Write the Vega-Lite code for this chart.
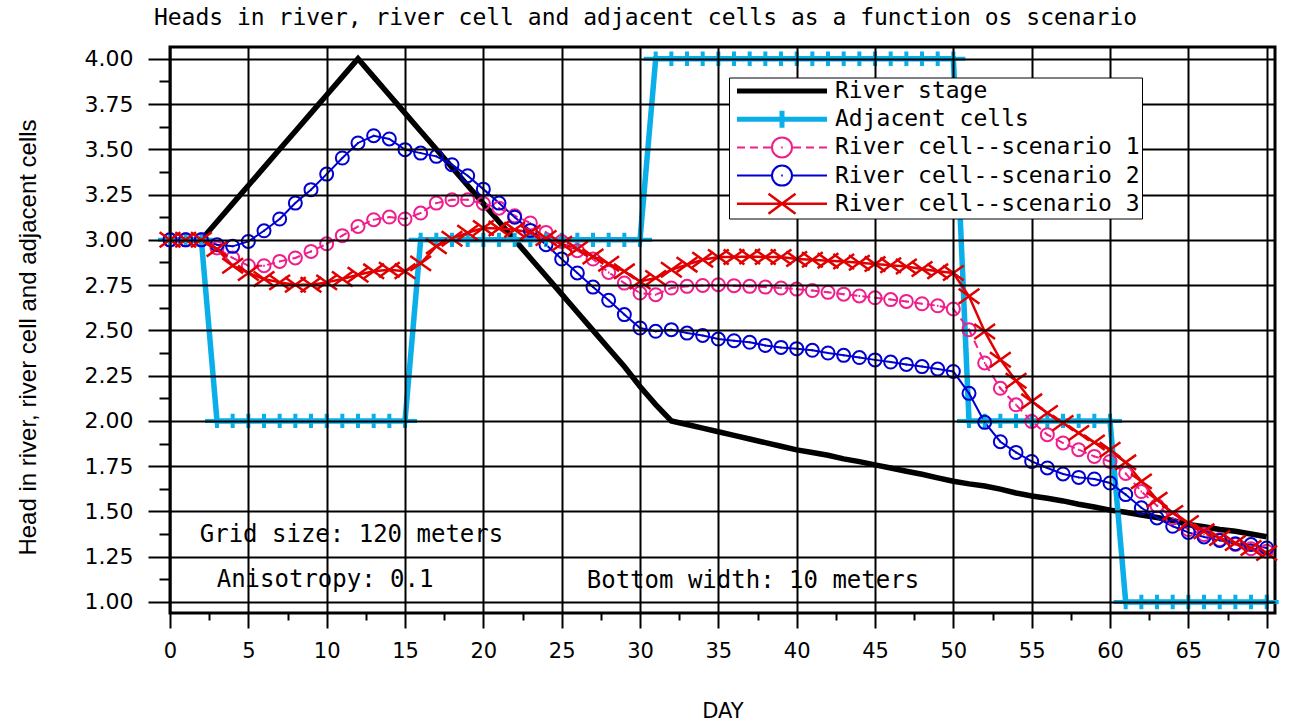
{
  "$schema": "https://vega.github.io/schema/vega-lite/v6.json",
  "width": 1105,
  "height": 566,
  "autosize": {"type": "none"},
  "padding": {"left": 170, "top": 47, "right": 24, "bottom": 108},
  "background": "white",
  "title": {
    "text": "Heads in river, river cell and adjacent cells as a function os scenario",
    "font": "DejaVu Sans Mono",
    "fontSize": 23,
    "fontWeight": "normal",
    "color": "black",
    "anchor": "middle",
    "dx": -77,
    "offset": -4,
    "baseline": "alphabetic"
  },
  "config": {
    "font": "DejaVu Sans",
    "view": {"stroke": "black", "strokeWidth": 3}
  },
  "datasets": {
    "heads": [
      {"day":0,"river":3.0,"adjacent":3.0,"s1":3.0,"s2":3.0,"s3":3.0},
      {"day":1,"river":3.0,"adjacent":3.0,"s1":3.0,"s2":3.0,"s3":3.0},
      {"day":2,"river":3.0,"adjacent":3.0,"s1":3.0,"s2":3.0,"s3":3.0},
      {"day":3,"river":3.1,"adjacent":2.0,"s1":2.955,"s2":2.973,"s3":2.949},
      {"day":4,"river":3.2,"adjacent":2.0,"s1":2.90,"s2":2.964,"s3":2.857},
      {"day":5,"river":3.3,"adjacent":2.0,"s1":2.857,"s2":2.991,"s3":2.817},
      {"day":6,"river":3.4,"adjacent":2.0,"s1":2.857,"s2":3.05,"s3":2.784},
      {"day":7,"river":3.5,"adjacent":2.0,"s1":2.881,"s2":3.115,"s3":2.765},
      {"day":8,"river":3.6,"adjacent":2.0,"s1":2.90,"s2":3.203,"s3":2.752},
      {"day":9,"river":3.7,"adjacent":2.0,"s1":2.936,"s2":3.277,"s3":2.752},
      {"day":10,"river":3.8,"adjacent":2.0,"s1":2.978,"s2":3.363,"s3":2.765},
      {"day":11,"river":3.9,"adjacent":2.0,"s1":3.023,"s2":3.452,"s3":2.784},
      {"day":12,"river":4.0,"adjacent":2.0,"s1":3.074,"s2":3.535,"s3":2.807},
      {"day":13,"river":3.9,"adjacent":2.0,"s1":3.111,"s2":3.575,"s3":2.826},
      {"day":14,"river":3.8,"adjacent":2.0,"s1":3.126,"s2":3.557,"s3":2.835},
      {"day":15,"river":3.7,"adjacent":2.0,"s1":3.115,"s2":3.498,"s3":2.826},
      {"day":16,"river":3.6,"adjacent":3.0,"s1":3.148,"s2":3.479,"s3":2.870},
      {"day":17,"river":3.5,"adjacent":3.0,"s1":3.203,"s2":3.461,"s3":2.964},
      {"day":18,"river":3.4,"adjacent":3.0,"s1":3.221,"s2":3.415,"s3":3.006},
      {"day":19,"river":3.3,"adjacent":3.0,"s1":3.221,"s2":3.354,"s3":3.039},
      {"day":20,"river":3.2,"adjacent":3.0,"s1":3.201,"s2":3.280,"s3":3.065},
      {"day":21,"river":3.1,"adjacent":3.0,"s1":3.175,"s2":3.203,"s3":3.062},
      {"day":22,"river":3.0,"adjacent":3.0,"s1":3.133,"s2":3.125,"s3":3.056},
      {"day":23,"river":2.9,"adjacent":3.0,"s1":3.093,"s2":3.052,"s3":3.041},
      {"day":24,"river":2.8,"adjacent":3.0,"s1":3.041,"s2":2.973,"s3":3.010},
      {"day":25,"river":2.7,"adjacent":3.0,"s1":2.991,"s2":2.894,"s3":2.978},
      {"day":26,"river":2.6,"adjacent":3.0,"s1":2.940,"s2":2.817,"s3":2.949},
      {"day":27,"river":2.5,"adjacent":3.0,"s1":2.894,"s2":2.739,"s3":2.908},
      {"day":28,"river":2.4,"adjacent":3.0,"s1":2.820,"s2":2.666,"s3":2.868},
      {"day":29,"river":2.3,"adjacent":3.0,"s1":2.761,"s2":2.587,"s3":2.826},
      {"day":30,"river":2.19,"adjacent":3.0,"s1":2.706,"s2":2.513,"s3":2.770},
      {"day":31,"river":2.09,"adjacent":4.0,"s1":2.697,"s2":2.495,"s3":2.789},
      {"day":32,"river":2.0,"adjacent":4.0,"s1":2.734,"s2":2.504,"s3":2.835},
      {"day":33,"river":1.98,"adjacent":4.0,"s1":2.743,"s2":2.485,"s3":2.863},
      {"day":34,"river":1.96,"adjacent":4.0,"s1":2.748,"s2":2.472,"s3":2.890},
      {"day":35,"river":1.94,"adjacent":4.0,"s1":2.752,"s2":2.452,"s3":2.905},
      {"day":36,"river":1.92,"adjacent":4.0,"s1":2.747,"s2":2.443,"s3":2.905},
      {"day":37,"river":1.90,"adjacent":4.0,"s1":2.743,"s2":2.434,"s3":2.908},
      {"day":38,"river":1.88,"adjacent":4.0,"s1":2.739,"s2":2.417,"s3":2.905},
      {"day":39,"river":1.86,"adjacent":4.0,"s1":2.734,"s2":2.406,"s3":2.905},
      {"day":40,"river":1.84,"adjacent":4.0,"s1":2.728,"s2":2.399,"s3":2.894},
      {"day":41,"river":1.825,"adjacent":4.0,"s1":2.720,"s2":2.390,"s3":2.890},
      {"day":42,"river":1.81,"adjacent":4.0,"s1":2.710,"s2":2.375,"s3":2.885},
      {"day":43,"river":1.79,"adjacent":4.0,"s1":2.700,"s2":2.362,"s3":2.880},
      {"day":44,"river":1.775,"adjacent":4.0,"s1":2.690,"s2":2.350,"s3":2.873},
      {"day":45,"river":1.757,"adjacent":4.0,"s1":2.680,"s2":2.337,"s3":2.866},
      {"day":46,"river":1.74,"adjacent":4.0,"s1":2.670,"s2":2.325,"s3":2.860},
      {"day":47,"river":1.722,"adjacent":4.0,"s1":2.660,"s2":2.312,"s3":2.853},
      {"day":48,"river":1.705,"adjacent":4.0,"s1":2.647,"s2":2.300,"s3":2.839},
      {"day":49,"river":1.685,"adjacent":4.0,"s1":2.636,"s2":2.286,"s3":2.826},
      {"day":50,"river":1.667,"adjacent":4.0,"s1":2.618,"s2":2.273,"s3":2.817},
      {"day":51,"river":1.652,"adjacent":2.0,"s1":2.504,"s2":2.152,"s3":2.688},
      {"day":52,"river":1.64,"adjacent":2.0,"s1":2.320,"s2":1.992,"s3":2.494},
      {"day":53,"river":1.623,"adjacent":2.0,"s1":2.180,"s2":1.885,"s3":2.338},
      {"day":54,"river":1.602,"adjacent":2.0,"s1":2.089,"s2":1.826,"s3":2.222},
      {"day":55,"river":1.585,"adjacent":2.0,"s1":1.997,"s2":1.776,"s3":2.108},
      {"day":56,"river":1.573,"adjacent":2.0,"s1":1.924,"s2":1.740,"s3":2.044},
      {"day":57,"river":1.558,"adjacent":2.0,"s1":1.878,"s2":1.707,"s3":1.988},
      {"day":58,"river":1.54,"adjacent":2.0,"s1":1.841,"s2":1.688,"s3":1.933},
      {"day":59,"river":1.524,"adjacent":2.0,"s1":1.804,"s2":1.679,"s3":1.881},
      {"day":60,"river":1.507,"adjacent":2.0,"s1":1.776,"s2":1.657,"s3":1.841},
      {"day":61,"river":1.495,"adjacent":1.0,"s1":1.710,"s2":1.593,"s3":1.771},
      {"day":62,"river":1.48,"adjacent":1.0,"s1":1.610,"s2":1.520,"s3":1.666},
      {"day":63,"river":1.466,"adjacent":1.0,"s1":1.532,"s2":1.464,"s3":1.565},
      {"day":64,"river":1.45,"adjacent":1.0,"s1":1.464,"s2":1.418,"s3":1.492},
      {"day":65,"river":1.428,"adjacent":1.0,"s1":1.400,"s2":1.384,"s3":1.436},
      {"day":66,"river":1.415,"adjacent":1.0,"s1":1.372,"s2":1.359,"s3":1.390},
      {"day":67,"river":1.40,"adjacent":1.0,"s1":1.344,"s2":1.340,"s3":1.353},
      {"day":68,"river":1.39,"adjacent":1.0,"s1":1.317,"s2":1.322,"s3":1.326},
      {"day":69,"river":1.375,"adjacent":1.0,"s1":1.294,"s2":1.317,"s3":1.298},
      {"day":70,"river":1.36,"adjacent":1.0,"s1":1.280,"s2":1.298,"s3":1.270}
    ],
    "notes": [
      {"day": 1.9, "value": 1.333, "label": "Grid size: 120 meters"},
      {"day": 2.98, "value": 1.085, "label": "Anisotropy: 0.1"},
      {"day": 26.6, "value": 1.077, "label": "Bottom width: 10 meters"}
    ]
  },
  "encoding": {
    "x": {
      "field": "day",
      "type": "quantitative",
      "scale": {"domain": [0, 70.53], "nice": false, "zero": false},
      "axis": {
        "values": [0,2.5,5,7.5,10,12.5,15,17.5,20,22.5,25,27.5,30,32.5,35,37.5,40,42.5,45,47.5,50,52.5,55,57.5,60,62.5,65,67.5,70],
        "format": "d",
        "labelExpr": "datum.value % 5 === 0 ? datum.label : ''",
        "title": "DAY",
        "titleFont": "DejaVu Sans",
        "titleFontSize": 21,
        "titleFontWeight": "normal",
        "titleColor": "black",
        "titleY": 104,
        "titleBaseline": "alphabetic",
        "labelFont": "DejaVu Sans",
        "labelFontSize": 21,
        "labelColor": "black",
        "labelPadding": 12,
        "labelFlush": false,
        "labelOverlap": false,
        "grid": true,
        "gridColor": "black",
        "gridWidth": 2,
        "gridOpacity": {"condition": {"test": "datum.value % 5 === 0", "value": 1}, "value": 0},
        "tickColor": "black",
        "tickWidth": 2,
        "tickSize": {"condition": {"test": "datum.value % 5 === 0", "value": 15}, "value": 7},
        "domain": false,
        "zindex": 1
      }
    },
    "y": {
      "field": "value",
      "type": "quantitative",
      "scale": {"domain": [0.939, 4.065], "nice": false, "zero": false},
      "axis": {
        "values": [1,1.125,1.25,1.375,1.5,1.625,1.75,1.875,2,2.125,2.25,2.375,2.5,2.625,2.75,2.875,3,3.125,3.25,3.375,3.5,3.625,3.75,3.875,4],
        "format": ".2f",
        "labelExpr": "(datum.value * 4) % 1 === 0 ? datum.label : ''",
        "title": "Head in river, river cell and adjacent cells",
        "titleFont": "Liberation Sans",
        "titleFontSize": 24,
        "titleFontWeight": "normal",
        "titleColor": "black",
        "titleX": -135,
        "titleY": 290,
        "titleAngle": -90,
        "titleAlign": "center",
        "titleBaseline": "alphabetic",
        "labelFont": "DejaVu Sans",
        "labelFontSize": 22,
        "labelColor": "black",
        "labelPadding": 15,
        "labelOverlap": false,
        "labelFlush": false,
        "grid": true,
        "gridColor": "black",
        "gridWidth": 2,
        "gridOpacity": {"condition": {"test": "(datum.value * 4) % 1 === 0", "value": 1}, "value": 0},
        "tickColor": "black",
        "tickWidth": 2,
        "tickSize": {"condition": {"test": "(datum.value * 4) % 1 === 0", "value": 22}, "value": 11},
        "domain": false,
        "zindex": 1
      }
    }
  },
  "layer": [
    {
      "data": {"name": "heads"},
      "transform": [
        {"fold": ["river", "adjacent", "s1", "s2", "s3"], "as": ["series", "value"]},
        {"filter": "datum.series === 'river'"}
      ],
      "mark": {"type": "line", "strokeWidth": 5.5, "strokeJoin": "miter"},
      "encoding": {
        "color": {
          "field": "series",
          "type": "nominal",
          "scale": {"domain": ["river", "adjacent", "s1", "s2", "s3"], "range": ["#000000", "#0aaee8", "#f01e8c", "#0000d0", "#e00000"]},
          "legend": {
            "orient": "none",
            "legendX": 559,
            "legendY": 30.5,
            "direction": "vertical",
            "title": null,
            "padding": 2,
            "strokeColor": "black",
            "fillColor": "white",
            "rowPadding": 4.2,
            "labelFont": "DejaVu Sans Mono",
            "labelFontSize": 23,
            "labelColor": "black",
            "labelLimit": 600,
            "labelOffset": 41.5,
            "symbolOffset": 39.5,
            "symbolSize": 100,
            "zindex": 2,
            "labelExpr": "datum.value === 'river' ? 'River stage' : datum.value === 'adjacent' ? 'Adjacent cells' : datum.value === 's1' ? 'River cell--scenario 1' : datum.value === 's2' ? 'River cell--scenario 2' : 'River cell--scenario 3'",
            "encode": {
              "symbols": {
                "update": {
                  "shape": {"signal": "datum.value === 'river' ? 'M-9,0H9' : datum.value === 'adjacent' ? 'M-9,0H9M0,-1.7V1.7' : datum.value === 's1' ? 'M-9,0H-7.4M-6.4,0H-4.8M-3.8,0H-2.2M2.2,0H3.8M4.8,0H6.4M7.4,0H9M-2,0A2,2 0 1,0 2,0A2,2 0 1,0 -2,0M-0.15,0H0.15' : datum.value === 's2' ? 'M-9,0H-2M2,0H9M-2,0A2,2 0 1,0 2,0A2,2 0 1,0 -2,0M-0.15,0H0.15' : 'M-9,0H9M-2.7,-2L2.7,2M-2.7,2L2.7,-2'"},
                  "strokeWidth": {"signal": "(datum.value === 'river' || datum.value === 'adjacent' ? 5 : datum.value === 's3' ? 2.5 : 2)"},
                  "strokeJoin": {"value": "round"},
                  "fill": {"value": "transparent"},
                  "opacity": {"value": 1}
                }
              }
            }
          }
        },
        "order": {"field": "day", "type": "quantitative"}
      }
    },
    {
      "data": {"name": "heads"},
      "transform": [
        {"fold": ["river", "adjacent", "s1", "s2", "s3"], "as": ["series", "value"]},
        {"filter": "datum.series === 'adjacent'"}
      ],
      "mark": {"type": "line", "strokeWidth": 5.5},
      "encoding": {
        "color": {"field": "series", "type": "nominal"},
        "order": {"field": "day", "type": "quantitative"}
      }
    },
    {
      "data": {"name": "heads"},
      "transform": [
        {"fold": ["river", "adjacent", "s1", "s2", "s3"], "as": ["series", "value"]},
        {"filter": "datum.series === 's1'"}
      ],
      "mark": {"type": "line", "strokeWidth": 2, "strokeDash": [8, 5]},
      "encoding": {
        "color": {"field": "series", "type": "nominal"},
        "order": {"field": "day", "type": "quantitative"}
      }
    },
    {
      "data": {"name": "heads"},
      "transform": [
        {"fold": ["river", "adjacent", "s1", "s2", "s3"], "as": ["series", "value"]},
        {"filter": "datum.series === 's2'"}
      ],
      "mark": {"type": "line", "strokeWidth": 2},
      "encoding": {
        "color": {"field": "series", "type": "nominal"},
        "order": {"field": "day", "type": "quantitative"}
      }
    },
    {
      "data": {"name": "heads"},
      "transform": [
        {"fold": ["river", "adjacent", "s1", "s2", "s3"], "as": ["series", "value"]},
        {"filter": "datum.series === 's3'"}
      ],
      "mark": {"type": "line", "strokeWidth": 2.5},
      "encoding": {
        "color": {"field": "series", "type": "nominal"},
        "order": {"field": "day", "type": "quantitative"}
      }
    },
    {
      "data": {"name": "heads"},
      "transform": [
        {"fold": ["river", "adjacent", "s1", "s2", "s3"], "as": ["series", "value"]},
        {"filter": "datum.series === 'adjacent'"}
      ],
      "mark": {"type": "point", "shape": "M-1,0H1M0,-0.6V0.6", "size": 576, "strokeWidth": 4, "filled": false, "opacity": 1},
      "encoding": {
        "color": {"field": "series", "type": "nominal"}
      }
    },
    {
      "data": {"name": "heads"},
      "transform": [
        {"fold": ["river", "adjacent", "s1", "s2", "s3"], "as": ["series", "value"]},
        {"filter": "datum.series === 's1' || datum.series === 's2'"}
      ],
      "mark": {"type": "point", "size": 169, "strokeWidth": 2, "filled": false, "opacity": 1, "shape": "M-1,0A1,1 0 1,0 1,0A1,1 0 1,0 -1,0M-0.12,0H0.12"},
      "encoding": {
        "color": {"field": "series", "type": "nominal"}
      }
    },
    {
      "data": {"name": "heads"},
      "transform": [
        {"fold": ["river", "adjacent", "s1", "s2", "s3"], "as": ["series", "value"]},
        {"filter": "datum.series === 's3'"}
      ],
      "mark": {"type": "point", "size": 169, "strokeWidth": 2.5, "filled": false, "opacity": 1, "shape": "M-1.6,-1.15L1.6,1.15M-1.6,1.15L1.6,-1.15"},
      "encoding": {
        "color": {"field": "series", "type": "nominal"}
      }
    },
    {
      "data": {"name": "notes"},
      "mark": {"type": "text", "align": "left", "baseline": "alphabetic", "font": "DejaVu Sans Mono", "fontSize": 24, "color": "black"},
      "encoding": {
        "text": {"field": "label", "type": "nominal"}
      }
    }
  ]
}
